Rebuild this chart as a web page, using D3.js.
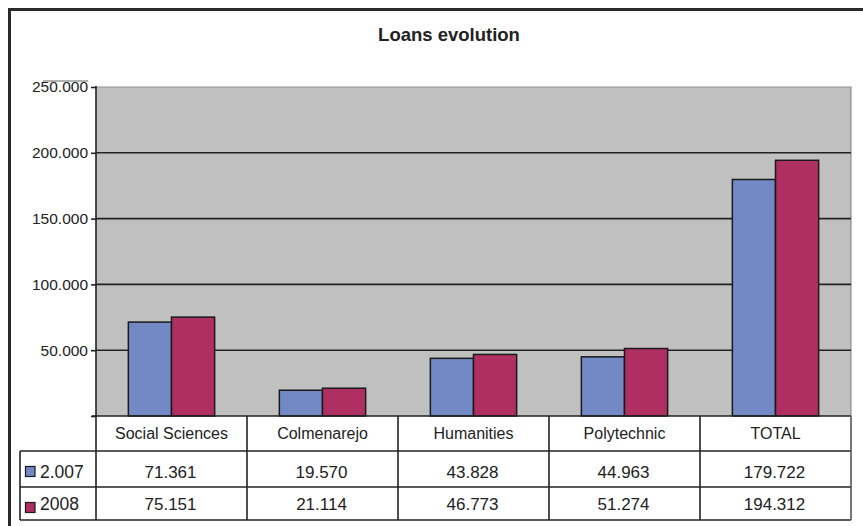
<!DOCTYPE html>
<html>
<head>
<meta charset="utf-8">
<script src="https://cdn.jsdelivr.net/npm/d3@7/dist/d3.min.js"></script>
<style>
  html, body { margin: 0; padding: 0; background: #fff; }
  svg { display: block; }
  text { font-family: "Liberation Sans", Arial, Helvetica, sans-serif; fill: #222; }
</style>
</head>
<body>
<svg id="chart" width="863" height="526"></svg>
<script>
// ---- data ----
const title = "Loans evolution";
const categories = ["Social Sciences", "Colmenarejo", "Humanities", "Polytechnic", "TOTAL"];
const seriesNames = ["2.007", "2008"];
const values2007 = [71361, 19570, 43828, 44963, 179722];
const values2008 = [75151, 21114, 46773, 51274, 194312];
const yTickValues = [0, 50000, 100000, 150000, 200000, 250000];
const yTickLabels = ["", "50.000", "100.000", "150.000", "200.000", "250.000"];
const seriesColors = ["#7289c6", "#b02f62"];

const seriesValues = [values2007, values2008];
const esLocale = d3.formatLocale({ decimal: ",", thousands: ".", grouping: [3], currency: ["", ""] });
const fmt = esLocale.format(",d");

// ---- layout ----
const svg = d3.select("#chart");
const plot = { left: 96, right: 851, top: 87, bottom: 416 };
const table = { left: 20, headerBottom: 451, row1Bottom: 487, bottom: 520 };

// outer frame (right/bottom are cropped in the reference)
svg.append("rect").attr("x", 0).attr("y", 0).attr("width", 863).attr("height", 526).attr("fill", "#fff");
svg.append("path")
  .attr("d", "M9.5,526 V9.5 H863")
  .attr("fill", "none").attr("stroke", "#2a2a2a").attr("stroke-width", 3);

// title
svg.append("text")
  .attr("x", 449).attr("y", 41)
  .attr("text-anchor", "middle")
  .style("font-weight", "bold").style("font-size", "18.5px")
  .text(title);

// scales
const x0 = d3.scaleBand().domain(categories).range([plot.left, plot.right]).paddingInner(0).paddingOuter(0);
const barW = x0.bandwidth() / 3.5; // Excel gap width 150%
const x1 = d3.scaleBand().domain(seriesNames).range([0, barW * 2]);
const y = d3.scaleLinear().domain([0, 250000]).range([plot.bottom, plot.top]);

// plot background
svg.append("rect")
  .attr("x", plot.left).attr("y", plot.top)
  .attr("width", plot.right - plot.left).attr("height", plot.bottom - plot.top)
  .attr("fill", "#c0c0c0");
// plot border top/right (light)
svg.append("path")
  .attr("d", `M${plot.left},${plot.top} H${plot.right} V${plot.bottom}`)
  .attr("fill", "none").attr("stroke", "#8f8f8f").attr("stroke-width", 1.2);

// gridlines
svg.append("g").selectAll("line")
  .data(yTickValues.filter(v => v > 0 && v < 250000))
  .join("line")
  .attr("x1", plot.left).attr("x2", plot.right)
  .attr("y1", d => y(d)).attr("y2", d => y(d))
  .attr("stroke", "#222").attr("stroke-width", 1.6);

// bars
const groups = svg.append("g").selectAll("g")
  .data(categories)
  .join("g")
  .attr("transform", d => `translate(${x0(d) + (x0.bandwidth() - barW * 2) / 2},0)`);
groups.selectAll("rect")
  .data((d, i) => seriesNames.map((s, j) => ({ s, j, v: seriesValues[j][i] })))
  .join("rect")
  .attr("x", d => x1(d.s))
  .attr("y", d => y(d.v))
  .attr("width", x1.bandwidth())
  .attr("height", d => y(0) - y(d.v))
  .attr("fill", d => seriesColors[d.j])
  .attr("stroke", "#1a1a1a").attr("stroke-width", 1.5);

// y axis
const yAxis = d3.axisLeft(y)
  .tickValues(yTickValues)
  .tickSize(5)
  .tickPadding(3)
  .tickFormat((d, i) => yTickLabels[i]);
const ga = svg.append("g").attr("transform", `translate(${plot.left},0)`).call(yAxis);
ga.select(".domain").remove();
ga.selectAll(".tick line").attr("stroke", "#222").attr("stroke-width", 1.6);
ga.selectAll(".tick text")
  .attr("fill", "#222")
  .style("font-size", "15.5px")
  .style("font-family", "'Liberation Sans', Arial, sans-serif");
// artifact line above top label
svg.append("line").attr("x1", 43).attr("x2", 88).attr("y1", 81).attr("y2", 81)
  .attr("stroke", "#666").attr("stroke-width", 1);

// vertical axis line, continuing through table
svg.append("line")
  .attr("x1", plot.left).attr("x2", plot.left)
  .attr("y1", plot.top - 1).attr("y2", table.bottom)
  .attr("stroke", "#222").attr("stroke-width", 1.6);

// ---- data table ----
const tg = svg.append("g");
const lineAttrs = sel => sel.attr("stroke", "#222").attr("stroke-width", 1.6);
tg.append("line").attr("x1", plot.left - 4).attr("x2", plot.right).attr("y1", plot.bottom).attr("y2", plot.bottom).call(lineAttrs);
[table.headerBottom, table.row1Bottom, table.bottom].forEach(yy => {
  tg.append("line").attr("x1", table.left).attr("x2", plot.right).attr("y1", yy).attr("y2", yy).call(lineAttrs);
});
tg.append("line").attr("x1", table.left).attr("x2", table.left).attr("y1", table.headerBottom).attr("y2", table.bottom).call(lineAttrs);
categories.forEach((c, i) => {
  const xx = x0(c) + x0.bandwidth();
  tg.append("line").attr("x1", xx).attr("x2", xx)
    .attr("y1", plot.bottom).attr("y2", table.bottom)
    .attr("stroke", i === categories.length - 1 ? "#555" : "#222")
    .attr("stroke-width", 1.6);
});

// header labels
tg.selectAll("text.cat")
  .data(categories)
  .join("text")
  .attr("class", "cat")
  .attr("x", d => x0(d) + x0.bandwidth() / 2)
  .attr("y", 439)
  .attr("text-anchor", "middle")
  .style("font-size", "16px")
  .text(d => d);

// values rows
const rowBaselines = [477.5, 509.5];
const rowTops = [table.headerBottom, table.row1Bottom];
seriesNames.forEach((s, j) => {
  tg.selectAll(`text.val${j}`)
    .data(categories)
    .join("text")
    .attr("class", `val${j}`)
    .attr("x", d => x0(d) + x0.bandwidth() / 2 - 1)
    .attr("y", rowBaselines[j])
    .attr("text-anchor", "middle")
    .style("font-size", "17px")
    .text((d, i) => fmt(seriesValues[j][i]));
  tg.append("rect")
    .attr("x", 25.5).attr("y", rowTops[j] + 15.5)
    .attr("width", 9.5).attr("height", 10)
    .attr("fill", seriesColors[j])
    .attr("stroke", "#1a1a1a").attr("stroke-width", 1.2);
  tg.append("text")
    .attr("x", 40).attr("y", rowBaselines[j])
    .style("font-size", "17.5px")
    .text(s);
});
</script>
</body>
</html>
